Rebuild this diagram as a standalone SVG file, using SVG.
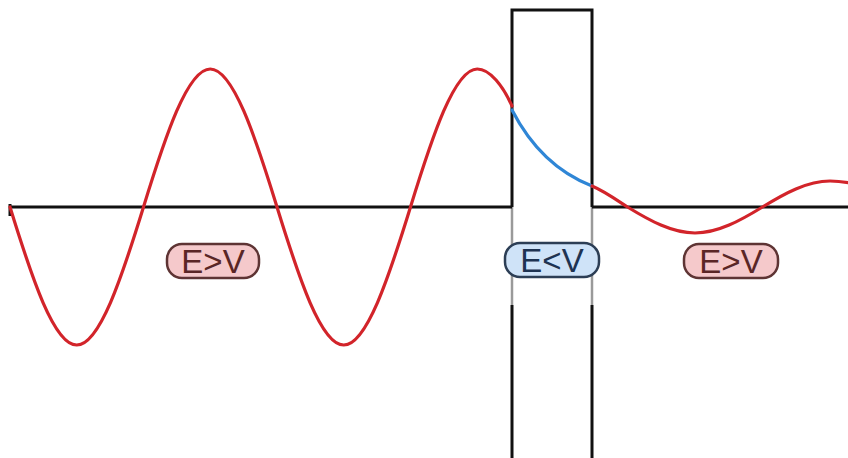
<svg xmlns="http://www.w3.org/2000/svg" width="848" height="458" viewBox="0 0 848 458">
<style>
.ax{stroke:#111;stroke-width:3;fill:none}
.gr{stroke:#9a9a9a;stroke-width:2.5;fill:none}
.red{stroke:#d2242a;stroke-width:3.2;fill:none;stroke-linecap:round}
.blue{stroke:#2f86d6;stroke-width:3.2;fill:none;stroke-linecap:round}
.lbl{font-family:"Liberation Sans",Arial,sans-serif;font-size:33px;text-anchor:middle}
.pink rect{fill:#f5c9cb;stroke:#5e3434;stroke-width:2.5}
.pink text{fill:#5a2626}
.bl rect{fill:#cfe3f8;stroke:#2c3e55;stroke-width:2.5}
.bl text{fill:#1e3352}
</style>
<rect width="848" height="458" fill="#fff"/>
<g id="barrier">
<path class="ax" d="M512,207 V10 H592 V207"/>
<path class="gr" d="M512,207 V305 M592,207 V305"/>
<path class="ax" d="M512,305 V458 M592,305 V458"/>
</g>
<g id="axis">
<path class="ax" d="M10,207 H512 M592,207 H848"/>
<path class="ax" d="M10,204 V216"/>
</g>
<g id="connectors">
<path class="red" d="M10,207 C31.8,277.7 54,345 76.75,345 C99.5,345 121.7,277.7 143.5,207 C165.3,136.3 187.5,69 210.25,69 C233,69 255.2,136.3 277,207 C298.8,277.7 321,345 343.75,345 C366.5,345 388.7,277.7 410.5,207 C432.3,136.3 454.5,69 477.25,69 C490,69 503,86 512,106"/>
<path class="blue" d="M512,110 C530,145 556,172 592,186"/>
<path class="red" d="M592,186 C604,191 616,199.5 627.5,207 C649.5,220.5 672,233 695,233 C718,233 740.5,220.5 762.5,207 C784.5,193.5 807,181 830,181 C836,181 842,181.5 850,183"/>
</g>
<g id="label-left" class="pink">
<rect x="167" y="244" width="92" height="34" rx="15"/>
<text class="lbl" x="213" y="273">E&gt;V</text>
</g>
<g id="label-barrier" class="bl">
<rect x="505" y="243" width="94" height="34" rx="15"/>
<text class="lbl" x="552" y="272">E&lt;V</text>
</g>
<g id="label-right" class="pink">
<rect x="684" y="244" width="94" height="34" rx="15"/>
<text class="lbl" x="731" y="273">E&gt;V</text>
</g>
</svg>
